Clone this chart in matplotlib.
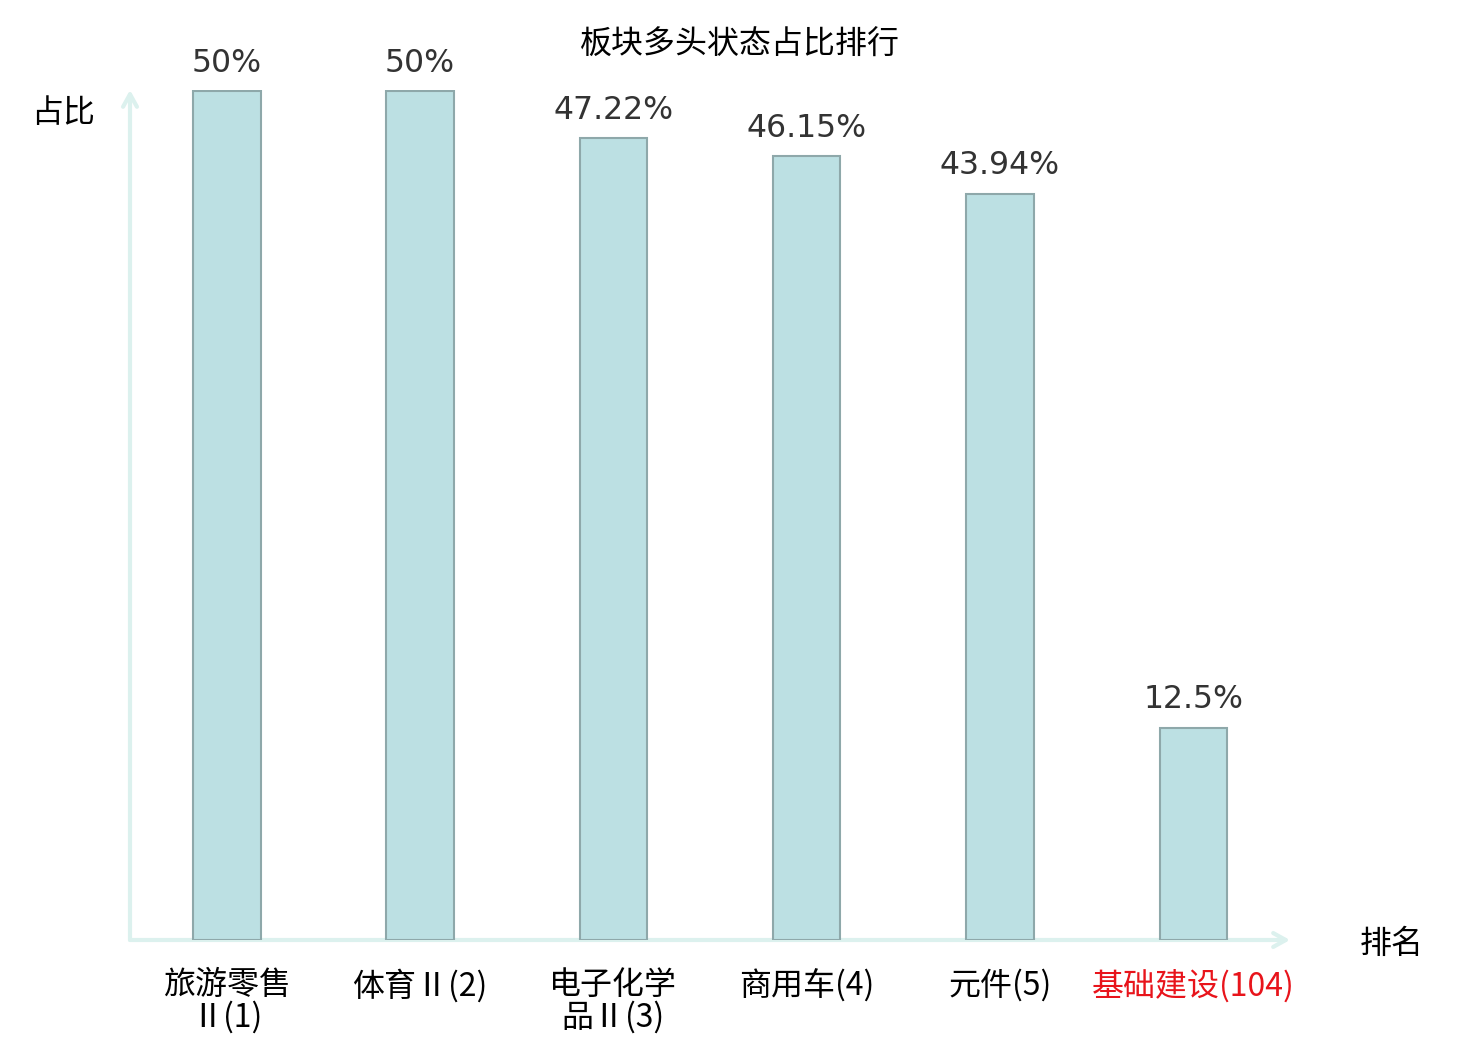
import matplotlib
matplotlib.use("Agg")
import matplotlib.pyplot as plt

plt.rcParams['font.family'] = ['Noto Sans CJK SC', 'DejaVu Sans']

categories = ["旅游零售\nⅡ(1)", "体育Ⅱ(2)", "电子化学\n品Ⅱ(3)", "商用车(4)", "元件(5)", "基础建设(104)"]
values = [50, 50, 47.22, 46.15, 43.94, 12.5]
value_labels = ["50%", "50%", "47.22%", "46.15%", "43.94%", "12.5%"]
label_colors = ["#000000", "#000000", "#000000", "#000000", "#000000", "#e8141b"]
title = "板块多头状态占比排行"

fig = plt.figure(figsize=(14.8, 10.4), dpi=100)
W, H = 1480, 1040
ax = fig.add_axes([130 / W, 1 - 940 / H, (1290 - 130) / W, (940 - 90) / H])

x = list(range(len(categories)))
ax.bar(x, values, width=0.35, color="#bce0e3", edgecolor="#8ea8aa", linewidth=1.5, zorder=2)
ax.set_xlim(-0.5, 5.5)
ax.set_ylim(0, 50.06)

for xi, v, lab in zip(x, values, value_labels):
    ax.annotate(lab, (xi, v), xytext=(0, 9), textcoords="offset points",
                ha="center", va="bottom", fontsize=22.7, color="#333333",
                family=["DejaVu Sans"])

for s in ax.spines.values():
    s.set_visible(False)
ax.set_yticks([])
ax.set_xticks(x)
ax.set_xticklabels(categories, fontsize=23, linespacing=1.0)
for t, c in zip(ax.get_xticklabels(), label_colors):
    t.set_color(c)
ax.tick_params(axis="x", length=0, pad=21)

axis_color = "#dcf1ee"
ax.annotate("", xy=(1.0, 0), xytext=(0, 0), xycoords="axes fraction",
            arrowprops=dict(arrowstyle="->,head_length=0.9,head_width=0.5",
                            color=axis_color, lw=3, shrinkA=0, shrinkB=0), zorder=1)
ax.annotate("", xy=(0, 1.0), xytext=(0, 0), xycoords="axes fraction",
            arrowprops=dict(arrowstyle="->,head_length=0.9,head_width=0.5",
                            color=axis_color, lw=3, shrinkA=0, shrinkB=0), zorder=1)

fig.text(740 / W, 1 - 45 / H, title, ha="center", va="center", fontsize=23, color="#000000")
fig.text(63 / W, 1 - 113 / H, "占比", ha="center", va="center", fontsize=23, color="#000000")
fig.text(1392 / W, 1 - 944 / H, "排名", ha="center", va="center", fontsize=23, color="#000000")

fig.savefig("out.png", dpi=100)
